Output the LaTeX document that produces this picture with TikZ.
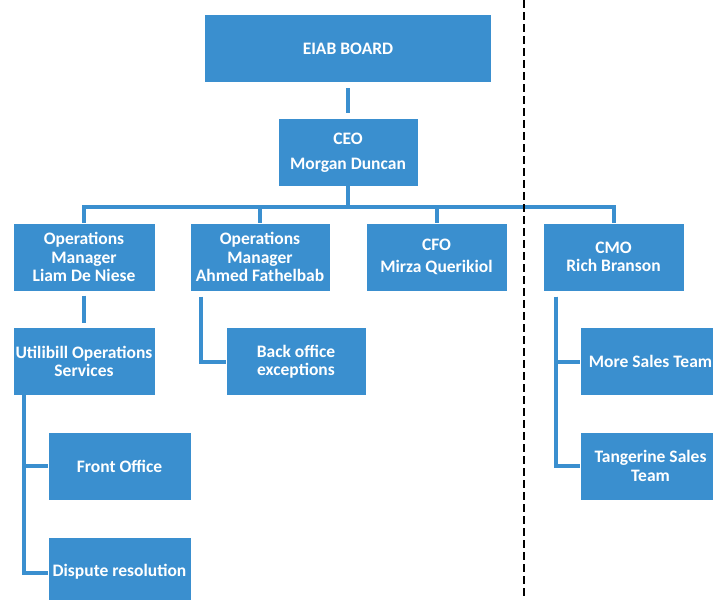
\documentclass[tikz,border=0pt]{standalone}
\usepackage{fontspec}
\setmainfont{Carlito}
\usepackage{tikz}
\usetikzlibrary{shapes,arrows}
\definecolor{orgblue}{RGB}{58,143,207}
\tikzstyle{post} = [rectangle, fill=orgblue, text=white, align=center, font=\bfseries\fontsize{17.5}{18.5}\selectfont, minimum width=140pt, minimum height=67pt, inner sep=1pt]
\tikzstyle{link} = [draw=orgblue, line width=4pt]
\tikzstyle{divider} = [draw=black, line width=2pt, dash pattern=on 8pt off 4pt]

\begin{document}
\begin{tikzpicture}[x=1pt, y=1pt, node distance=104.5pt]

\useasboundingbox (0,0) rectangle (713,-600);
\clip (0,0) rectangle (713,-600);

\node (board) [post, minimum width=286pt] at (348,-48.5) {EIAB BOARD};
\node (ceo) [post, below of=board, yshift=0.5pt, minimum width=139pt] {CEO\\[7pt] Morgan Duncan};
\node (liam) [post, below of=ceo, xshift=-264pt, minimum width=141pt] {Operations\\ Manager\\ Liam De Niese};
\node (ahmed) [post, below of=ceo, xshift=-88pt, minimum width=139pt] {Operations\\ Manager\\ Ahmed Fathelbab};
\node (cfo) [post, below of=ceo, xshift=88.5pt] {CFO\\[3pt] Mirza Querikiol};
\node (cmo) [post, below of=ceo, xshift=265.5pt] {CMO\\ Rich Branson};
\node (utili) [post, below of=liam, minimum width=141pt] {Utilibill Operations\\ Services};
\node (back) [post, below of=ahmed, xshift=36pt, minimum width=139pt] {Back office\\ exceptions};
\node (front) [post, below of=utili, xshift=35.5pt, minimum width=142pt] {Front Office};
\node (dispute) [post, below of=front, yshift=-1pt, minimum width=142pt] {Dispute resolution};
\node (more) [post, below of=cmo, xshift=37pt] {More Sales Team};
\node (tang) [post, below of=more] {Tangerine Sales\\ Team};

% chain of command
\draw [link, shorten <=6pt, shorten >=6pt] (board) -- (ceo);
\foreach \n in {liam,ahmed,cfo,cmo}
  \draw [link] (ceo.south) -- ++(0,-20.5) -| (\n.north);
\draw [link, shorten <=5pt, shorten >=5pt] (liam) -- (utili);
\draw [link, shorten <=6pt] ([xshift=-59.5pt]ahmed.south) |- (back.west);
\draw [link] ([xshift=-60.5pt]utili.south) |- (front.west);
\draw [link] ([xshift=-60.5pt]utili.south) |- ([yshift=-1.5pt]dispute.west);
\draw [link, shorten <=6pt] ([xshift=-58pt]cmo.south) |- (more.west);
\draw [link, shorten <=6pt] ([xshift=-58pt]cmo.south) |- (tang.west);

% split between the two sides
\coordinate (divtop) at (524,0);
\coordinate (divbot) at (524,-600);
\draw [divider] (divtop) -- (divbot);

\end{tikzpicture}
\end{document}
